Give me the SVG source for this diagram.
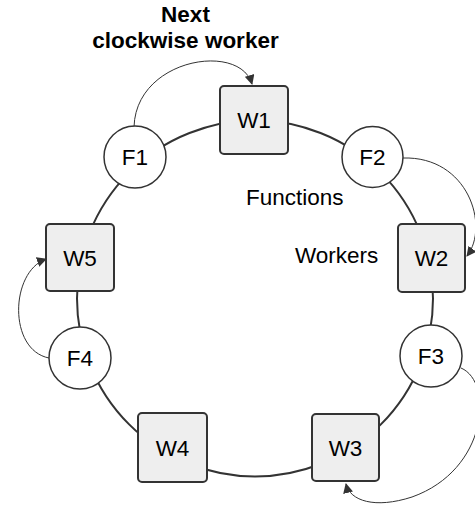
<svg xmlns="http://www.w3.org/2000/svg" width="475" height="506" viewBox="0 0 475 506">
<defs>
<marker id="ah" viewBox="0 0 10 10" refX="9" refY="5" markerWidth="10" markerHeight="10" markerUnits="userSpaceOnUse" orient="auto">
<path d="M0,0 L10,5 L0,10 z" fill="#333"/>
</marker>
<style>
.ring{fill:none;stroke:#333;stroke-width:2}
.arc{fill:none;stroke:#333;stroke-width:1}
.w{fill:#eeeeee;stroke:#333;stroke-width:2}
.f{fill:#fff;stroke:#333;stroke-width:1.5}
text{font-family:"Liberation Sans",Arial,sans-serif;font-size:22.5px;fill:#000}
.lbl{text-anchor:middle}
.title{font-weight:bold;text-anchor:middle}
</style>
</defs>
<g id="connectors">
<circle class="ring" cx="255" cy="298.5" r="178"/>
<path class="arc" d="M134,127 C136,58 240,42 252,84" marker-end="url(#ah)"/>
<path class="arc" d="M403,158 C468,156 490,226 467,256" marker-end="url(#ah)"/>
<path class="arc" d="M461,368 C494,382 488,470 412,497 C375,509 350,501 346,484" marker-end="url(#ah)"/>
<path class="arc" d="M49,358 C8,350 10,272 46,259" marker-end="url(#ah)"/>
</g>
<g id="title">
<text class="title" x="185.5" y="22">Next</text>
<text class="title" x="185.5" y="48">clockwise worker</text>
</g>
<g id="W1"><rect class="w" x="220" y="86" width="68" height="68" rx="4"/><text class="lbl" x="254" y="128">W1</text></g>
<g id="W2"><rect class="w" x="398" y="224" width="67" height="68" rx="4"/><text class="lbl" x="431.5" y="266">W2</text></g>
<g id="W3"><rect class="w" x="312" y="414" width="67" height="67" rx="4"/><text class="lbl" x="345.5" y="455.5">W3</text></g>
<g id="W4"><rect class="w" x="138" y="413" width="69" height="69" rx="4"/><text class="lbl" x="172.5" y="455.5">W4</text></g>
<g id="W5"><rect class="w" x="46" y="224" width="68" height="67" rx="4"/><text class="lbl" x="80" y="265.5">W5</text></g>
<g id="F1"><circle class="f" cx="135" cy="157" r="31"/><text class="lbl" x="135" y="165">F1</text></g>
<g id="F2"><circle class="f" cx="372.5" cy="157" r="30.5"/><text class="lbl" x="372.5" y="165">F2</text></g>
<g id="F3"><circle class="f" cx="431" cy="356" r="31"/><text class="lbl" x="431" y="364">F3</text></g>
<g id="F4"><circle class="f" cx="80" cy="358" r="31"/><text class="lbl" x="80" y="366">F4</text></g>
<g id="labels">
<text x="246" y="205">Functions</text>
<text x="295" y="263">Workers</text>
</g>
</svg>
